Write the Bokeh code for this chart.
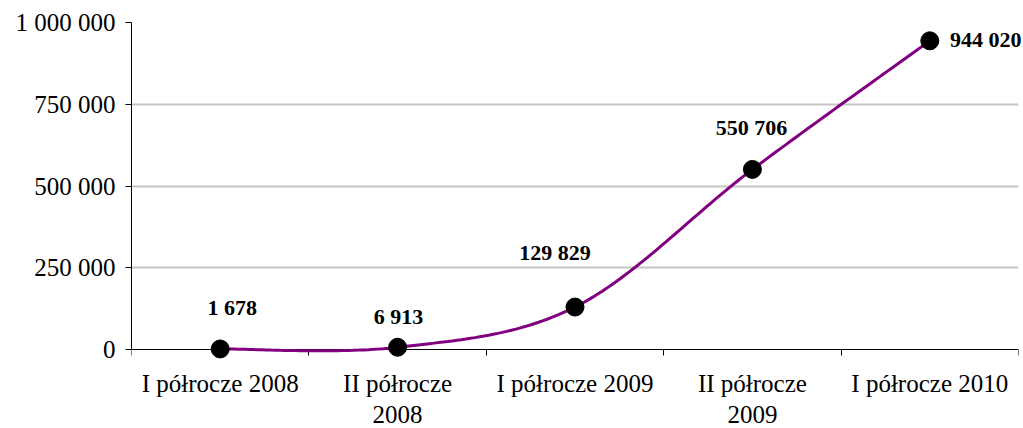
import numpy as np
from bokeh.plotting import figure
from bokeh.models import FixedTicker, ColumnDataSource, Range1d
from bokeh.embed import file_html
from bokeh.resources import INLINE
from bokeh.core.properties import value

# ---- data ----
categories = ["I półrocze 2008", "II półrocze\n2008", "I półrocze 2009",
              "II półrocze\n2009", "I półrocze 2010"]
values = [1678, 6913, 129829, 550706, 944020]
y_ticks = [0, 250000, 500000, 750000, 1000000]
y_tick_labels = ["0", "250 000", "500 000", "750 000", "1 000 000"]

# label placement (screen px offsets)
label_dx = [12, 1, -20, -1, 56]
label_dy = [-41, -31, -55, -42, -1]

# ---- layout (px) ----
W, H = 1023, 428
TOP, LEFT, RIGHT = 22, 131, 5
ZERO_PX = 349                      # pixel row of the value 0
y_max = y_ticks[-1]
y_min = -(H - ZERO_PX) / (ZERO_PX - TOP) * y_max   # room below 0 for the category labels

n = len(values)
xc = np.arange(n) + 0.5
yv = np.array(values, dtype=float)

# Excel-like smoothing (Catmull-Rom -> cubic Bezier)
P = np.column_stack([xc, yv])
xs, ys = [], []
for i in range(n - 1):
    p0 = P[i - 1] if i > 0 else P[i]
    p1 = P[i]
    p2 = P[i + 1]
    p3 = P[i + 2] if i + 2 < n else P[i + 1]
    c1 = p1 + (p2 - p0) / 6.0
    c2 = p2 - (p3 - p1) / 6.0
    t = np.linspace(0, 1, 40)[:, None]
    b = (1 - t) ** 3 * p1 + 3 * (1 - t) ** 2 * t * c1 + 3 * (1 - t) * t ** 2 * c2 + t ** 3 * p2
    xs.extend(b[:, 0]); ys.extend(b[:, 1])

p = figure(width=W, height=H, output_backend="svg", toolbar_location=None,
           x_range=Range1d(0, n), y_range=Range1d(y_min, y_max),
           min_border_left=LEFT, min_border_right=RIGHT, min_border_top=TOP, min_border_bottom=0)
p.outline_line_color = None
p.background_fill_color = "white"
p.border_fill_color = "white"

font = "Liberation Serif"

# x axis, drawn at value 0
xa = p.xaxis[0]
xa.fixed_location = 0
xa.ticker = FixedTicker(ticks=list(xc), minor_ticks=list(range(n + 1)))
xa.major_label_overrides = {float(x): c for x, c in zip(xc, categories)}
xa.major_tick_line_color = None
xa.major_tick_in = 0
xa.major_tick_out = 0
xa.minor_tick_in = 0
xa.minor_tick_out = 6
xa.minor_tick_line_color = "black"
xa.axis_line_color = "black"
xa.major_label_text_font = font
xa.major_label_text_font_size = "25px"
xa.major_label_text_color = "black"
xa.major_label_text_line_height = 1.15
xa.major_label_standoff = 14
xa.major_label_orientation = "horizontal"

# y axis
ya = p.yaxis[0]
ya.bounds = (0, y_max)
ya.ticker = FixedTicker(ticks=y_ticks, minor_ticks=[])
ya.major_label_overrides = {t: l for t, l in zip(y_ticks, y_tick_labels)}
ya.major_tick_in = 0
ya.major_tick_out = 6
ya.major_tick_line_color = "black"
ya.axis_line_color = "black"
ya.major_label_text_font = font
ya.major_label_text_font_size = "25px"
ya.major_label_text_color = "black"
ya.major_label_standoff = 10

p.xgrid.grid_line_color = None
p.ygrid.ticker = FixedTicker(ticks=y_ticks[1:])
p.ygrid.grid_line_color = "#c4c4c4"
p.ygrid.grid_line_width = 2

r1 = p.line(xs, ys, line_color="#800080", line_width=3)
r2 = p.scatter(xc, yv, size=18, fill_color="black", line_color="black")

src = ColumnDataSource(dict(x=xc, y=yv,
                            t=[f"{v:,}".replace(",", " ") for v in values],
                            dx=label_dx, dy=label_dy))
r3 = p.text(x="x", y="y", text="t", x_offset="dx", y_offset="dy", source=src,
            text_font=value(font), text_font_style="bold", text_font_size="22px",
            text_align="center", text_baseline="middle", text_color="black")
for r in (r1, r2, r3):
    r.level = "overlay"

open("out.html", "w").write(file_html(p, INLINE))
